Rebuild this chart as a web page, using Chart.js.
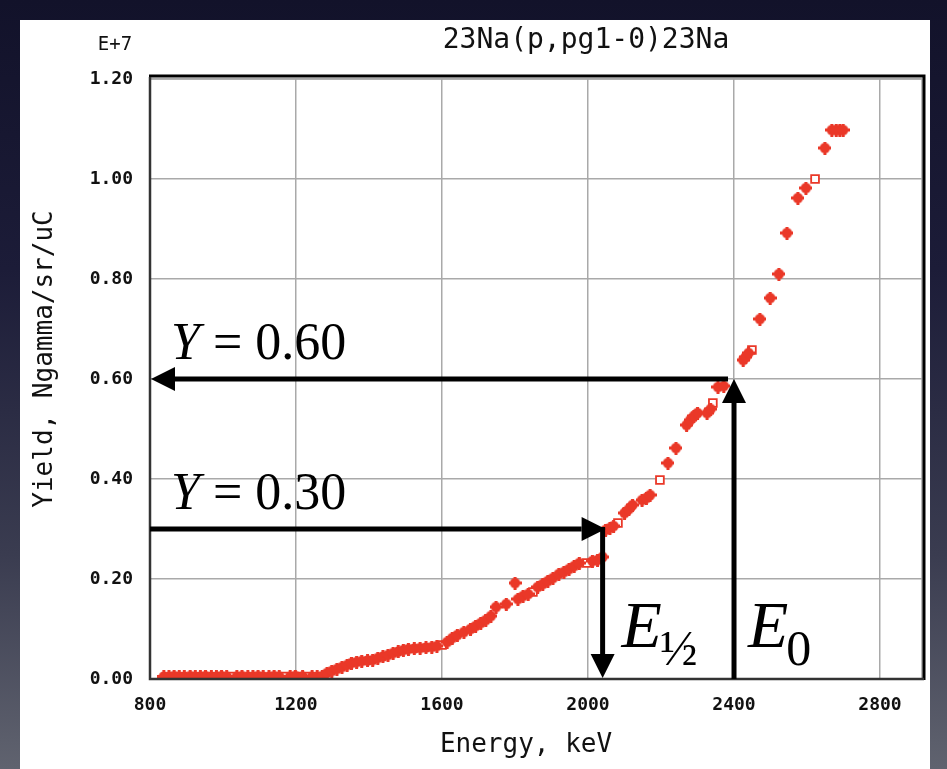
<!DOCTYPE html>
<html>
<head>
<meta charset="utf-8">
<title>23Na(p,pg1-0)23Na yield</title>
<script src="https://cdn.jsdelivr.net/npm/chart.js@4.4.1/dist/chart.umd.min.js"></script>
<style>
    html, body { margin: 0; padding: 0; }
    body {
        width: 947px; height: 769px; overflow: hidden; position: relative;
        background: linear-gradient(to bottom, #12122a 0%, #1c1c38 35%, #3a3c50 72%, #60636f 100%);
    }
    #panel { position: absolute; left: 20px; top: 20px; width: 910px; height: 749px; background: #fff; }
    #yieldChart { position: absolute; left: 0; top: 0; }
</style>
</head>
<body>
<div id="panel"></div>
<canvas id="yieldChart" width="947" height="769"></canvas>
<script>
// Data (yield in units of 1E+7)
// ---------------------------------------------------------
const energy = [
    838, 852, 866, 880, 894, 910, 924, 938, 952, 968, 982, 996, 1010, 1038, 1052, 1068,
    1082, 1096, 1110, 1126, 1140, 1154, 1184, 1198, 1218, 1244, 1258, 1272,
    1285, 1298, 1312, 1326, 1340, 1352, 1366, 1380, 1396, 1410, 1424, 1438, 1452, 1466,
    1480, 1494, 1508, 1524, 1540, 1556, 1572, 1586, 1614, 1628, 1642, 1660, 1678, 1692,
    1706, 1720, 1734, 1748, 1776, 1800, 1808, 1822, 1836, 1862, 1876, 1890, 1904, 1920,
    1934, 1948, 1962, 1976, 2012, 2026, 2040, 2048, 2060, 2070, 2100, 2112, 2122, 2148,
    2160, 2170, 2219, 2241, 2270, 2280, 2290, 2300, 2326, 2336, 2356, 2372, 2425, 2432,
    2440, 2471, 2499, 2523, 2545, 2575, 2597, 2649, 2668, 2680, 2690, 2699
];
const yieldValues = [
    0.005, 0.005, 0.006, 0.005, 0.005, 0.006, 0.005, 0.005, 0.006, 0.005, 0.005, 0.006, 0.005, 0.005, 0.006, 0.005,
    0.005, 0.006, 0.005, 0.005, 0.006, 0.005, 0.005, 0.006, 0.005, 0.005, 0.005, 0.006,
    0.012, 0.016, 0.020, 0.024, 0.028, 0.032, 0.034, 0.036, 0.037, 0.038, 0.042, 0.045, 0.048, 0.052,
    0.055, 0.058, 0.060, 0.061, 0.062, 0.063, 0.064, 0.066, 0.074, 0.082, 0.088, 0.094, 0.100, 0.106,
    0.112, 0.118, 0.126, 0.144, 0.150, 0.192, 0.160, 0.166, 0.170, 0.184, 0.190, 0.196, 0.202, 0.210,
    0.214, 0.220, 0.226, 0.232, 0.236, 0.238, 0.244, 0.298, 0.302, 0.306, 0.332, 0.340, 0.348, 0.358,
    0.362, 0.368, 0.432, 0.462, 0.508, 0.518, 0.526, 0.532, 0.532, 0.540, 0.584, 0.586, 0.638, 0.644,
    0.652, 0.720, 0.762, 0.810, 0.892, 0.962, 0.982, 1.062, 1.098, 1.098, 1.098, 1.098
];

// open-square points (second run)
const openEnergy = [1024, 1168, 1203, 1233, 1600, 1849, 1997, 2082, 2197, 2342, 2449, 2622];
const openYield = [0.005, 0.005, 0.005, 0.005, 0.068, 0.174, 0.232, 0.312, 0.398, 0.552, 0.658, 1.000];

// dashed baseline under the flat part
const baseEnergy = [850, 1290];
const baseYield = [0.003, 0.003];

const xTicks = [800, 1200, 1600, 2000, 2400, 2800];
const yTicks = [0.0, 0.2, 0.4, 0.6, 0.8, 1.0, 1.2];

// marked points: E0 / E1/2 and the matching yields
const markEnergy = [2400, 2040];
const markYield = [0.60, 0.30];
const markYLabels = ['0.60', '0.30'];

const RED = 'rgb(234, 56, 40)';
const MONO = '"DejaVu Sans Mono", "Liberation Mono", monospace';
const SERIF = '"Liberation Serif", "DejaVu Serif", serif';

// round blob with little knobs, like the old plotting program's marker
function makeBlob(color) {
    const c = document.createElement('canvas');
    c.width = 13;
    c.height = 13;
    const g = c.getContext('2d');
    g.fillStyle = color;
    g.beginPath();
    g.arc(6.5, 6.5, 5.2, 0, Math.PI * 2);
    g.fill();
    g.fillRect(5, 0, 3, 13);
    g.fillRect(0, 5, 13, 3);
    return c;
}

function toPoints(xs, ys) {
    return xs.map((v, i) => ({ x: v, y: ys[i] }));
}

// Frame, arrows and the hand-added labels
const overlayPlugin = {
    id: 'overlay',
    afterDatasetsDraw(chart) {
        const { ctx, chartArea: a, scales: { x, y } } = chart;
        ctx.save();

        // frame: grey inner line, black top/right, dark left/bottom
        ctx.strokeStyle = '#a6a6a6';
        ctx.lineWidth = 1.5;
        ctx.strokeRect(a.left, a.top, a.right - a.left, a.bottom - a.top);
        ctx.strokeStyle = '#000';
        ctx.lineWidth = 3;
        ctx.beginPath();
        ctx.moveTo(a.left - 1, a.top - 3);
        ctx.lineTo(a.right + 2, a.top - 3);
        ctx.lineTo(a.right + 2, a.bottom + 1);
        ctx.stroke();
        ctx.strokeStyle = '#333';
        ctx.lineWidth = 2.5;
        ctx.beginPath();
        ctx.moveTo(a.left, a.top - 2);
        ctx.lineTo(a.left, a.bottom);
        ctx.lineTo(a.right + 2, a.bottom);
        ctx.stroke();

        // arrows
        function arrow(x1, y1, x2, y2) {
            const head = 24;
            const ang = Math.atan2(y2 - y1, x2 - x1);
            const bx = x2 - Math.cos(ang) * head;
            const by = y2 - Math.sin(ang) * head;
            ctx.strokeStyle = '#000';
            ctx.fillStyle = '#000';
            ctx.lineWidth = 5;
            ctx.beginPath();
            ctx.moveTo(x1, y1);
            ctx.lineTo(bx, by);
            ctx.stroke();
            ctx.beginPath();
            ctx.moveTo(x2, y2);
            ctx.lineTo(bx - Math.sin(ang) * head / 2, by + Math.cos(ang) * head / 2);
            ctx.lineTo(bx + Math.sin(ang) * head / 2, by - Math.cos(ang) * head / 2);
            ctx.closePath();
            ctx.fill();
        }
        const e0 = x.getPixelForValue(markEnergy[0]);
        const eHalf = x.getPixelForValue(markEnergy[1]);
        const y60 = y.getPixelForValue(markYield[0]);
        const y30 = y.getPixelForValue(markYield[1]);

        arrow(e0 - 6, y60, a.left + 1, y60);
        arrow(e0, a.bottom, e0, y60);
        arrow(a.left, y30, eHalf + 3, y30);
        arrow(eHalf, y30 - 2, eHalf, a.bottom - 1);

        // "Y = 0.60" / "Y = 0.30"
        ctx.fillStyle = '#000';
        ctx.textBaseline = 'alphabetic';
        ctx.textAlign = 'left';
        [y60, y30].forEach((py, i) => {
            const lx = a.left + 21;
            const ly = py - 20;
            ctx.font = 'italic 52px ' + SERIF;
            ctx.fillText('Y', lx, ly);
            const w = ctx.measureText('Y').width;
            ctx.font = '52px ' + SERIF;
            ctx.fillText(' = ' + markYLabels[i], lx + w, ly);
        });

        // E1/2 and E0
        function eLabel(px, sub) {
            ctx.font = 'italic 66px ' + SERIF;
            ctx.fillText('E', px, a.bottom - 32);
            const w = ctx.measureText('E').width;
            ctx.font = '50px ' + SERIF;
            ctx.fillText(sub, px + w - 2, a.bottom - 14);
        }
        eLabel(eHalf + 19, '\u00BD');
        eLabel(e0 + 14, '0');

        ctx.restore();
    },
    afterDraw(chart) {
        const { ctx, chartArea: a } = chart;
        ctx.save();
        ctx.fillStyle = '#111';
        ctx.textBaseline = 'middle';

        ctx.font = '28px ' + MONO;
        ctx.textAlign = 'center';
        ctx.fillText('23Na(p,pg1-0)23Na', 586, 41);

        ctx.font = '19px ' + MONO;
        ctx.fillText('E+7', 115, 45);

        ctx.font = '26px ' + MONO;
        ctx.fillText('Energy, keV', a.left + 376, 745);

        ctx.translate(45, a.top + 280);
        ctx.rotate(-Math.PI / 2);
        ctx.fillText('Yield, Ngamma/sr/uC', 0, 0);
        ctx.restore();
    }
};

const tickFont = { family: MONO, size: 18, weight: 'bold' };

new Chart(document.getElementById('yieldChart'), {
    type: 'scatter',
    data: {
        datasets: [
            {
                label: 'run 1',
                data: toPoints(energy, yieldValues),
                pointStyle: makeBlob(RED),
                pointRadius: 6,
                order: 0
            },
            {
                label: 'run 2',
                data: toPoints(openEnergy, openYield),
                pointStyle: 'rect',
                pointRadius: 5.5,
                pointBackgroundColor: '#fff',
                pointBorderColor: RED,
                pointBorderWidth: 1.8,
                order: 1
            },
            {
                label: 'baseline',
                data: toPoints(baseEnergy, baseYield),
                showLine: true,
                borderColor: '#3b979c',
                borderWidth: 1.5,
                borderDash: [5, 4],
                pointRadius: 0,
                order: 2
            }
        ]
    },
    options: {
        responsive: false,
        animation: false,
        devicePixelRatio: 1,
        layout: {
            padding: { top: 79, right: 25, bottom: 0, left: 0 }
        },
        plugins: {
            legend: { display: false },
            tooltip: { enabled: false }
        },
        scales: {
            x: {
                type: 'linear',
                min: 800,
                max: 2915,
                afterBuildTicks: (scale) => { scale.ticks = xTicks.map(v => ({ value: v })); },
                afterFit: (scale) => { scale.height = 90; },
                ticks: {
                    font: tickFont,
                    color: '#111',
                    padding: 16,
                    maxRotation: 0,
                    autoSkip: false,
                    callback: (v) => String(v)
                },
                grid: { color: '#a9a9a9', lineWidth: 1.5, drawTicks: false },
                border: { display: false }
            },
            y: {
                type: 'linear',
                min: 0,
                max: 1.2,
                afterBuildTicks: (scale) => { scale.ticks = yTicks.map(v => ({ value: v })); },
                afterFit: (scale) => { scale.width = 150; },
                ticks: {
                    font: tickFont,
                    color: '#111',
                    padding: 17,
                    autoSkip: false,
                    callback: (v) => Number(v).toFixed(2)
                },
                grid: { color: '#a9a9a9', lineWidth: 1.5, drawTicks: false },
                border: { display: false }
            }
        }
    },
    plugins: [overlayPlugin]
});
</script>
</body>
</html>
